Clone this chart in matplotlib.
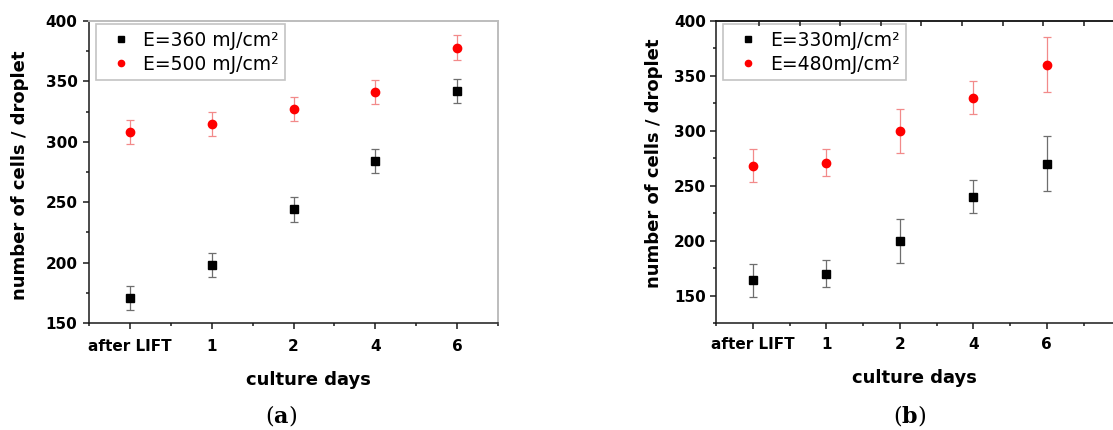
import matplotlib
matplotlib.use("Agg")
import matplotlib.pyplot as plt
from matplotlib.ticker import MultipleLocator, FixedLocator, NullFormatter

# ---- data -------------------------------------------------------------
categories = ["after LIFT", "1", "2", "4", "6"]

a_labels = ["E=360 mJ/cm²", "E=500 mJ/cm²"]
a_low = [171, 198, 244, 284, 342]
a_low_err = [10, 10, 10, 10, 10]
a_high = [308, 315, 327, 341, 378]
a_high_err = [10, 10, 10, 10, 10]

b_labels = ["E=330mJ/cm²", "E=480mJ/cm²"]
b_low = [164, 170, 200, 240, 270]
b_low_err = [15, 12, 20, 15, 25]
b_high = [268, 271, 300, 330, 360]
b_high_err = [15, 12, 20, 15, 25]

y_ticks_a = [150, 200, 250, 300, 350, 400]
y_ticks_b = [150, 200, 250, 300, 350, 400]

# ---- styling ----------------------------------------------------------
plt.rcParams["font.family"] = ["DejaVu Sans"]
plt.rcParams["mathtext.fontset"] = "dejavuserif"

W, H = 1113, 430
fig = plt.figure(figsize=(W / 100, H / 100), dpi=100)

SPINE = "#1a1a1a"
LW = 1.1


def px_axes(x0, x1, y0, y1):
    """Axes rectangle from pixel edges (left, right, top, bottom)."""
    return fig.add_axes([x0 / W, 1 - y1 / H, (x1 - x0) / W, (y1 - y0) / H])


def draw_panel(ax, low, low_err, high, high_err, labels, xtick_pad, ytick_pad):
    x = list(range(len(categories)))
    ax.errorbar(x, low, yerr=low_err, fmt="none", ecolor="#6e6e6e",
                elinewidth=0.9, capsize=3, capthick=0.9, zorder=2)
    ax.errorbar(x, high, yerr=high_err, fmt="none", ecolor="#f28a8a",
                elinewidth=0.9, capsize=3, capthick=0.9, zorder=2)
    ax.plot(x, low, "s", color="black", markersize=5.2, label=labels[0], zorder=3)
    ax.plot(x, high, "o", color="#ff0000", markersize=6.0, label=labels[1], zorder=3)

    ax.xaxis.set_major_locator(FixedLocator(x))
    ax.set_xticklabels(categories)
    ax.xaxis.set_minor_locator(FixedLocator([i - 0.5 for i in range(len(categories) + 2)]))
    ax.yaxis.set_minor_locator(MultipleLocator(25))

    for side in ("left", "bottom"):
        ax.spines[side].set_color(SPINE)
        ax.spines[side].set_linewidth(LW)

    ax.tick_params(axis="both", which="major", direction="out", length=4.3,
                   width=LW, color=SPINE, labelsize=11)
    ax.tick_params(axis="both", which="minor", direction="out", length=2.5,
                   width=LW, color=SPINE)
    ax.tick_params(axis="x", which="major", pad=xtick_pad)
    ax.tick_params(axis="y", which="major", pad=ytick_pad)
    ax.tick_params(top=False, right=False, which="both")
    for lbl in ax.get_xticklabels() + ax.get_yticklabels():
        lbl.set_fontweight("bold")


# ---- panel (a) ---------------------------------------------------------
ax_a = px_axes(89, 498, 21, 323)
draw_panel(ax_a, a_low, a_low_err, a_high, a_high_err, a_labels, 7, 4)
ax_a.set_xlim(-0.5, 4.5)
ax_a.set_ylim(150, 400)
ax_a.set_yticks(y_ticks_a)
for side in ("top", "right"):
    ax_a.spines[side].set_color("#bdbdbd")
    ax_a.spines[side].set_linewidth(1.4)

ax_a.set_xlabel("culture days", fontsize=13, fontweight="bold")
ax_a.xaxis.label.set_verticalalignment("center")
ax_a.xaxis.set_label_coords((308 - 89) / 409, -(380 - 323) / 302)
ax_a.set_ylabel("number of cells / droplet", fontsize=13, fontweight="bold")
ax_a.yaxis.label.set_verticalalignment("center")
ax_a.yaxis.set_label_coords((20 - 89) / 409, 0.49)

leg_kw = dict(loc="upper left", borderaxespad=0, fontsize=13.5, frameon=True,
              fancybox=False, shadow=False, markerscale=0.75, handlelength=2.0,
              handletextpad=0.15, borderpad=0.35, labelspacing=0.28)
leg_a = ax_a.legend(bbox_to_anchor=((96 - 89) / 409, (323 - 24) / 302), **leg_kw)
leg_a.get_frame().set_edgecolor("#b5b5b5")
leg_a.get_frame().set_linewidth(1.2)

# ---- panel (b) ---------------------------------------------------------
ax_b = px_axes(716, 1157, 21, 323)
draw_panel(ax_b, b_low, b_low_err, b_high, b_high_err, b_labels, 5.5, 3)
ax_b.set_xlim(-0.5, 5.5)
ax_b.set_ylim(125, 400)
ax_b.set_yticks(y_ticks_b)
ax_b.spines["top"].set_color(SPINE)
ax_b.spines["top"].set_linewidth(LW)
ax_b.spines["right"].set_color(SPINE)

ax_b.set_xlabel("culture days", fontsize=13, fontweight="bold")
ax_b.xaxis.label.set_verticalalignment("center")
ax_b.xaxis.set_label_coords((914 - 716) / 441, -(378 - 323) / 302)
ax_b.set_ylabel("number of cells / droplet", fontsize=13, fontweight="bold")
ax_b.yaxis.label.set_verticalalignment("center")
ax_b.yaxis.set_label_coords((654 - 716) / 441, 0.53)

leg_b = ax_b.legend(bbox_to_anchor=((723 - 716) / 441, (323 - 24) / 302), **leg_kw)
leg_b.get_frame().set_edgecolor("#b5b5b5")
leg_b.get_frame().set_linewidth(1.2)

# secondary top scale of panel (b): inward ticks only
top_b = ax_b.twiny()
top_b.set_xlim(-1.059, 9.80)
top_b.xaxis.set_major_locator(FixedLocator(list(range(10))))
top_b.xaxis.set_major_formatter(NullFormatter())
top_b.tick_params(axis="x", direction="in", length=3.5, width=LW, color=SPINE)
for side in ("left", "bottom", "right"):
    top_b.spines[side].set_visible(False)
top_b.spines["top"].set_color(SPINE)
top_b.spines["top"].set_linewidth(LW)

# ---- panel captions ------------------------------------------------------
fig.text(281 / W, 1 - 416 / H, r"($\mathbf{a}$)", fontsize=16,
         family="DejaVu Serif", ha="center", va="center")
fig.text(910 / W, 1 - 416 / H, r"($\mathbf{b}$)", fontsize=16,
         family="DejaVu Serif", ha="center", va="center")

fig.savefig("out.png", dpi=100)
